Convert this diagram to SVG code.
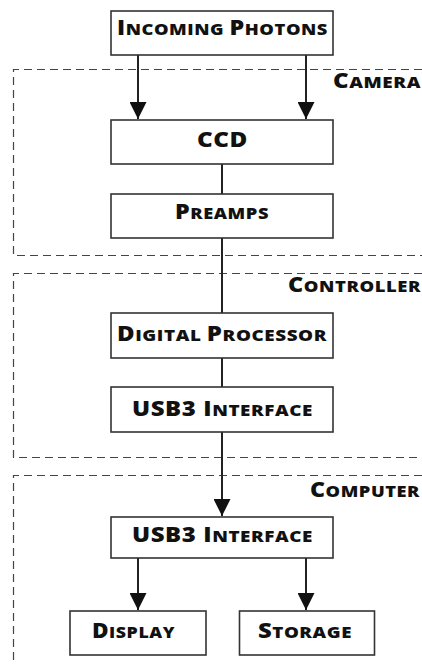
<svg xmlns="http://www.w3.org/2000/svg" width="422" height="664" viewBox="0 0 422 664">
<style>
.box{fill:#fff;stroke:#333;stroke-width:1.6}
.dash{fill:none;stroke:#444;stroke-width:1.2;stroke-dasharray:8 5}
.ln{fill:none;stroke:#222;stroke-width:2}
.t{font-family:"Open Sans",Lato,sans-serif;font-weight:800;font-size:21px;fill:#111;text-anchor:middle;letter-spacing:0.5px}
.l{font-family:"Open Sans",Lato,sans-serif;font-weight:800;font-size:21px;fill:#111;text-anchor:end;letter-spacing:0.5px}
.s{font-size:16.5px}
</style>
<defs>
<marker id="ah" markerWidth="18" markerHeight="17" refX="18" refY="9" orient="auto" markerUnits="userSpaceOnUse" viewBox="0 0 18 18">
<path d="M0,0 L18,9 L0,18 Z" fill="#111"/>
</marker>
</defs>
<g id="regions">
<path class="dash" d="M422,69.5 H13.5 V255.5 H422"/>
<path class="dash" d="M422,273.5 H13.5 V457.5 H422"/>
<path class="dash" d="M422,475.5 H13.5 V664"/>
<text class="l" x="421" y="88" textLength="88" lengthAdjust="spacingAndGlyphs">C<tspan class="s">AMERA</tspan></text>
<text class="l" x="421" y="292" textLength="133" lengthAdjust="spacingAndGlyphs">C<tspan class="s">ONTROLLER</tspan></text>
<text class="l" x="420" y="497" textLength="110" lengthAdjust="spacingAndGlyphs">C<tspan class="s">OMPUTER</tspan></text>
</g>
<g id="connectors">
<line class="ln" x1="138" y1="55" x2="138" y2="119" marker-end="url(#ah)"/>
<line class="ln" x1="306" y1="55" x2="306" y2="119" marker-end="url(#ah)"/>
<line class="ln" x1="222" y1="164" x2="222" y2="194"/>
<line class="ln" x1="222" y1="238" x2="222" y2="313"/>
<line class="ln" x1="222" y1="358" x2="222" y2="387"/>
<line class="ln" x1="222" y1="432" x2="222" y2="516" marker-end="url(#ah)"/>
<line class="ln" x1="138" y1="558" x2="138" y2="610" marker-end="url(#ah)"/>
<line class="ln" x1="306" y1="558" x2="306" y2="610" marker-end="url(#ah)"/>
</g>
<g id="photons"><rect class="box" x="111" y="11" width="222" height="44"/><text class="t" x="222.5" y="35" textLength="211" lengthAdjust="spacingAndGlyphs">I<tspan class="s">NCOMING </tspan>P<tspan class="s">HOTONS</tspan></text></g>
<g id="ccd"><rect class="box" x="111" y="120" width="222" height="44"/><text class="t" x="222.5" y="147" textLength="51" lengthAdjust="spacingAndGlyphs">CCD</text></g>
<g id="preamps"><rect class="box" x="111" y="194" width="222" height="44"/><text class="t" x="222" y="219" textLength="94" lengthAdjust="spacingAndGlyphs">P<tspan class="s">REAMPS</tspan></text></g>
<g id="digital"><rect class="box" x="111" y="313" width="222" height="45"/><text class="t" x="222" y="341" textLength="210" lengthAdjust="spacingAndGlyphs">D<tspan class="s">IGITAL </tspan>P<tspan class="s">ROCESSOR</tspan></text></g>
<g id="usb-ctrl"><rect class="box" x="111" y="387" width="222" height="45"/><text class="t" x="222.5" y="416" textLength="181" lengthAdjust="spacingAndGlyphs">USB3 I<tspan class="s">NTERFACE</tspan></text></g>
<g id="usb-comp"><rect class="box" x="111" y="517" width="222" height="41"/><text class="t" x="222.5" y="542" textLength="181" lengthAdjust="spacingAndGlyphs">USB3 I<tspan class="s">NTERFACE</tspan></text></g>
<g id="display"><rect class="box" x="70" y="611" width="136" height="44"/><text class="t" x="133.5" y="638" textLength="83" lengthAdjust="spacingAndGlyphs">D<tspan class="s">ISPLAY</tspan></text></g>
<g id="storage"><rect class="box" x="239.5" y="611" width="135" height="44"/><text class="t" x="305" y="638" textLength="94" lengthAdjust="spacingAndGlyphs">S<tspan class="s">TORAGE</tspan></text></g>
</svg>
